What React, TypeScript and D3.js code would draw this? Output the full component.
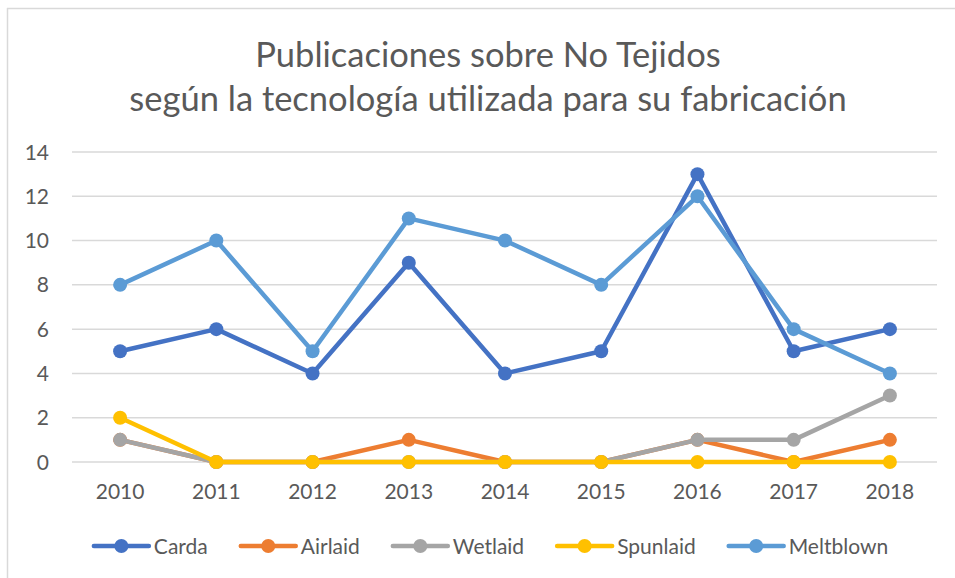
import * as d3 from "d3";
import { useEffect, useRef } from "react";

const width = 955;
const height = 578;

const years = ["2010", "2011", "2012", "2013", "2014", "2015", "2016", "2017", "2018"];
const seriesNames = ["Carda", "Airlaid", "Wetlaid", "Spunlaid", "Meltblown"];
const seriesColors = ["#4472C4", "#ED7D31", "#A5A5A5", "#FFC000", "#5B9BD5"];
const carda = [5, 6, 4, 9, 4, 5, 13, 5, 6];
const airlaid = [1, 0, 0, 1, 0, 0, 1, 0, 1];
const wetlaid = [1, 0, 0, 0, 0, 0, 1, 1, 3];
const spunlaid = [2, 0, 0, 0, 0, 0, 0, 0, 0];
const meltblown = [8, 10, 5, 11, 10, 8, 12, 6, 4];
const yTicks = [0, 2, 4, 6, 8, 10, 12, 14];
const titleLines = ["Publicaciones sobre No Tejidos", "según la tecnología utilizada para su fabricación"];

const font = "Lato, 'Noto Sans', sans-serif";
const textColor = "#595959";

export default function App() {
  const svgRef = useRef<SVGSVGElement>(null);

  useEffect(() => {
    const svg = d3.select(svgRef.current);
    svg.selectAll("*").remove();

    const allSeries = [carda, airlaid, wetlaid, spunlaid, meltblown];

    const x = d3.scaleBand().domain(years).range([72, 938]);
    const y = d3.scaleLinear().domain([0, 14]).range([462, 152]);

    // frame (only left and top edges are visible in the picture)
    svg.append("rect").attr("x", 0).attr("y", 0).attr("width", width).attr("height", height).attr("fill", "#fff");
    svg.append("line").attr("x1", 7.5).attr("x2", 7.5).attr("y1", 8).attr("y2", height).attr("stroke", "#d9d9d9").attr("stroke-width", 1.5);
    svg.append("line").attr("x1", 7).attr("x2", width).attr("y1", 8.5).attr("y2", 8.5).attr("stroke", "#d9d9d9").attr("stroke-width", 1.5);

    // title
    svg.append("g")
      .selectAll("text")
      .data(titleLines)
      .enter()
      .append("text")
      .attr("x", 488)
      .attr("y", (d, i) => 67 + i * 44)
      .attr("text-anchor", "middle")
      .style("font-family", font)
      .style("font-size", "34.5px")
      .style("fill", textColor)
      .text(d => d);

    // gridlines
    svg.append("g")
      .selectAll("line")
      .data(yTicks)
      .enter()
      .append("line")
      .attr("x1", 72)
      .attr("x2", 937)
      .attr("y1", d => y(d))
      .attr("y2", d => y(d))
      .attr("stroke", "#d9d9d9")
      .attr("stroke-width", 1.5);

    // y labels
    svg.append("g")
      .selectAll("text")
      .data(yTicks)
      .enter()
      .append("text")
      .attr("x", 49)
      .attr("y", d => y(d))
      .attr("dy", "0.36em")
      .attr("text-anchor", "end")
      .style("font-family", font)
      .style("font-size", "21px")
      .style("fill", textColor)
      .text(d => d);

    // x labels
    svg.append("g")
      .selectAll("text")
      .data(years)
      .enter()
      .append("text")
      .attr("x", d => x(d)! + x.bandwidth() / 2)
      .attr("y", 499)
      .attr("text-anchor", "middle")
      .style("font-family", font)
      .style("font-size", "21px")
      .style("fill", textColor)
      .text(d => d);

    const cx = (i: number) => x(years[i])! + x.bandwidth() / 2;
    const line = d3.line<number>().x((d, i) => cx(i)).y(d => y(d));

    allSeries.forEach((vals, s) => {
      const g = svg.append("g");
      g.append("path")
        .datum(vals)
        .attr("d", line)
        .attr("fill", "none")
        .attr("stroke", seriesColors[s])
        .attr("stroke-width", 4.5)
        .attr("stroke-linejoin", "round")
        .attr("stroke-linecap", "round");
      g.selectAll("circle")
        .data(vals)
        .enter()
        .append("circle")
        .attr("cx", (d, i) => cx(i))
        .attr("cy", d => y(d))
        .attr("r", 7)
        .attr("fill", seriesColors[s]);
    });

    // legend
    const legend = svg.append("g");
    const items = seriesNames.map((name, s) => {
      const item = legend.append("g");
      item.append("line").attr("x1", 0).attr("x2", 55).attr("y1", 0).attr("y2", 0)
        .attr("stroke", seriesColors[s]).attr("stroke-width", 4.5).attr("stroke-linecap", "round");
      item.append("circle").attr("cx", 27.5).attr("cy", 0).attr("r", 7).attr("fill", seriesColors[s]);
      const t = item.append("text")
        .attr("x", 60)
        .attr("dy", "0.36em")
        .style("font-family", font)
        .style("font-size", "21px")
        .style("fill", textColor)
        .text(name);
      const w = 60 + (t.node() as SVGTextElement).getComputedTextLength();
      return { item, w };
    });
    const gap = 33;
    const total = d3.sum(items, d => d.w) + gap * (items.length - 1);
    let pos = 491 - total / 2;
    items.forEach(({ item, w }) => {
      item.attr("transform", `translate(${pos}, 546)`);
      pos += w + gap;
    });
  }, []);

  return (
    <div style={{ position: "absolute", left: 0, top: 0 }}>
      <svg ref={svgRef} width={width} height={height}></svg>
    </div>
  );
}
